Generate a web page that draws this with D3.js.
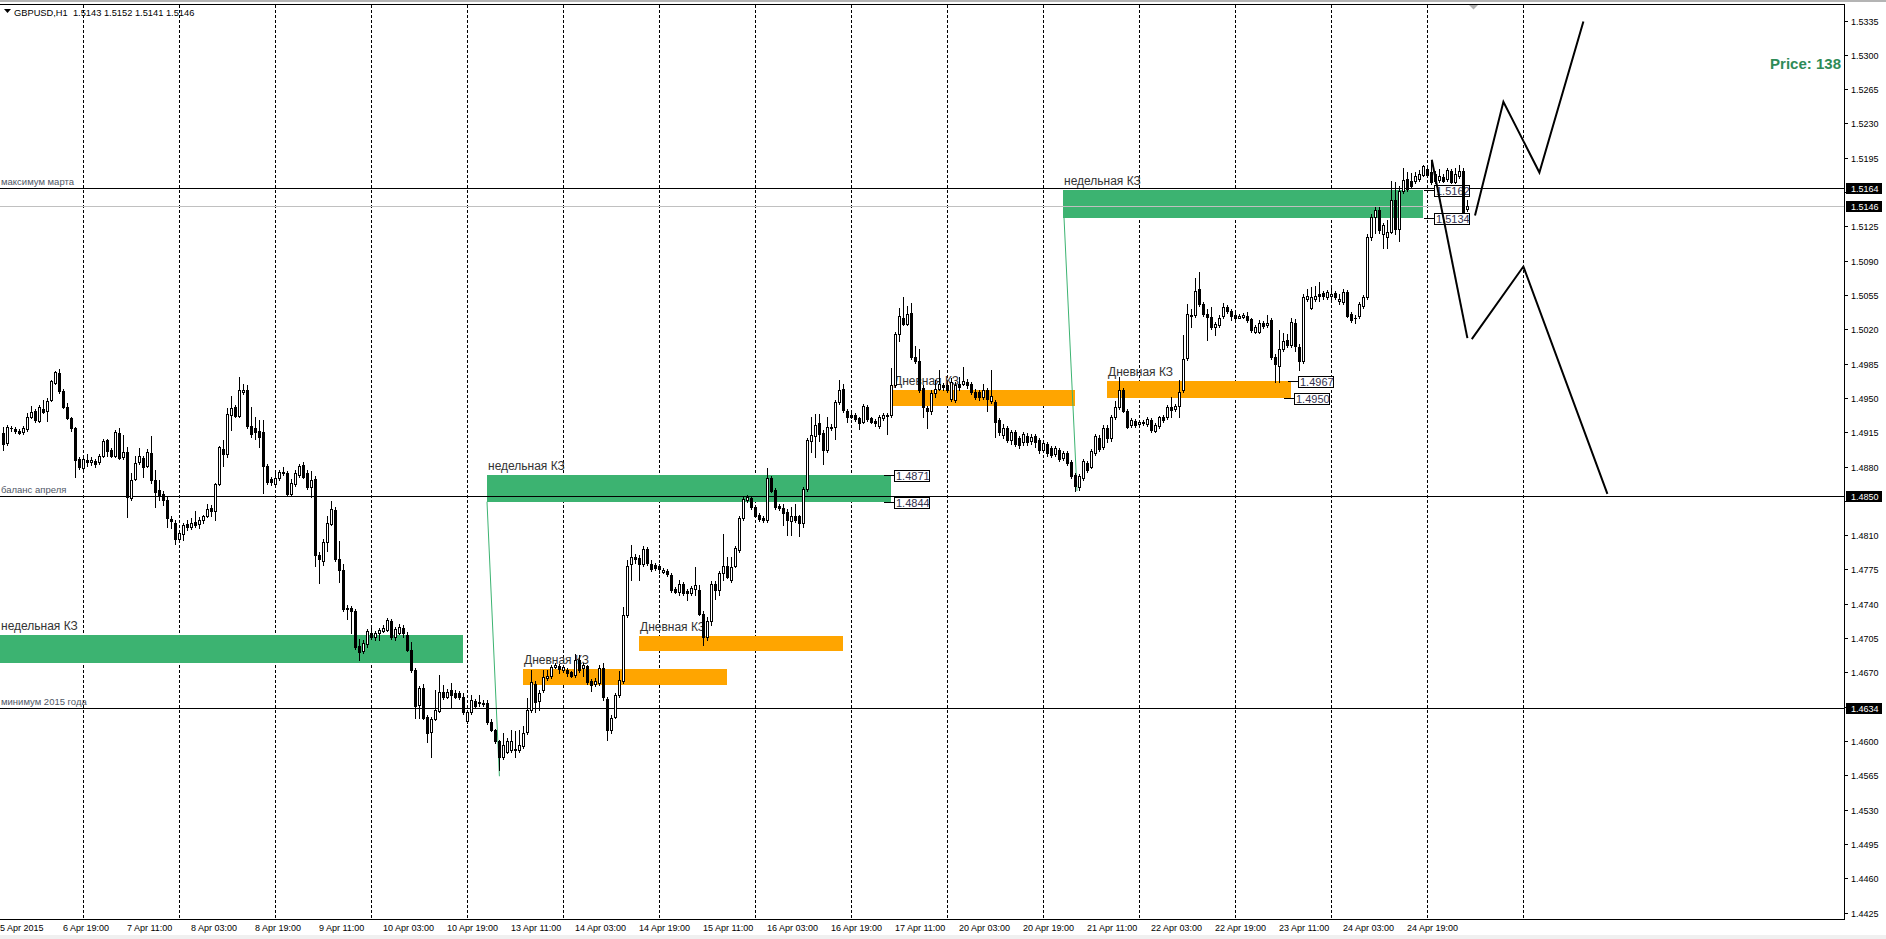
<!DOCTYPE html>
<html><head><meta charset="utf-8">
<script src="https://cdn.jsdelivr.net/npm/d3@7"></script>
<style>
body{margin:0;background:#fff;overflow:hidden}
svg{display:block}
text{font-family:"Liberation Sans",Arial,sans-serif;white-space:pre}
</style></head><body>
<svg id="c" width="1886" height="939"></svg>
<script>
// ---------- DATA (GBPUSD H1, bar index 0 = first visible bar) ----------
const opens=[1.4914,1.4904,1.4919,1.4918,1.4916,1.4915,1.4918,1.4930,1.4937,1.4926,
1.4939,1.4937,1.4948,1.4965,1.4975,1.4957,1.4941,1.4929,1.4919,1.4888,
1.4878,1.4887,1.4885,1.4886,1.4885,1.4891,1.4907,1.4897,1.4891,1.4914,
1.4890,1.4895,1.4848,1.4867,1.4885,1.4889,1.4881,1.4894,1.4866,1.4856,
1.4852,1.4846,1.4826,1.4822,1.4806,1.4811,1.4821,1.4818,1.4823,1.4821,
1.4825,1.4829,1.4838,1.4835,1.4862,1.4898,1.4893,1.4933,1.4941,1.4932,
1.4956,1.4958,1.4921,1.4919,1.4916,1.4915,1.4881,1.4867,1.4862,1.4868,
1.4874,1.4873,1.4852,1.4862,1.4871,1.4882,1.4873,1.4859,1.4867,1.4790,
1.4784,1.4803,1.4821,1.4836,1.4786,1.4774,1.4736,1.4736,1.4733,1.4697,
1.4692,1.4699,1.4710,1.4706,1.4710,1.4712,1.4713,1.4722,1.4706,1.4710,
1.4715,1.4708,1.4693,1.4672,1.4637,1.4654,1.4624,1.4609,1.4622,1.4631,
1.4650,1.4645,1.4652,1.4649,1.4649,1.4645,1.4620,1.4630,1.4641,1.4639,
1.4638,1.4639,1.4619,1.4611,1.4600,1.4584,1.4589,1.4591,1.4592,1.4591,
1.4595,1.4609,1.4632,1.4658,1.4641,1.4652,1.4664,1.4666,1.4675,1.4676,
1.4672,1.4672,1.4670,1.4667,1.4683,1.4674,1.4676,1.4661,1.4658,1.4659,
1.4674,1.4643,1.4611,1.4624,1.4647,1.4661,1.4728,1.4781,1.4788,1.4787,
1.4781,1.4796,1.4781,1.4780,1.4779,1.4772,1.4773,1.4769,1.4755,1.4752,
1.4760,1.4753,1.4751,1.4755,1.4754,1.4730,1.4706,1.4722,1.4760,1.4754,
1.4771,1.4779,1.4764,1.4779,1.4795,1.4827,1.4846,1.4848,1.4839,1.4831,
1.4827,1.4825,1.4868,1.4856,1.4840,1.4838,1.4834,1.4824,1.4830,1.4829,
1.4822,1.4857,1.4906,1.4911,1.4924,1.4914,1.4897,1.4919,1.4920,1.4946,
1.4959,1.4937,1.4933,1.4933,1.4929,1.4925,1.4941,1.4929,1.4926,1.4921,
1.4929,1.4932,1.4933,1.4963,1.5015,1.5032,1.5025,1.5037,1.4992,1.4988,
1.4960,1.4940,1.4937,1.4955,1.4959,1.4963,1.4963,1.4949,1.4948,1.4964,
1.4964,1.4966,1.4964,1.4956,1.4956,1.4951,1.4958,1.4947,1.4946,1.4927,
1.4912,1.4919,1.4907,1.4915,1.4909,1.4905,1.4911,1.4906,1.4911,1.4907,
1.4897,1.4903,1.4899,1.4893,1.4897,1.4889,1.4894,1.4885,1.4871,1.4859,
1.4868,1.4884,1.4880,1.4894,1.4909,1.4900,1.4919,1.4909,1.4930,1.4941,
1.4958,1.4937,1.4922,1.4926,1.4923,1.4925,1.4923,1.4927,1.4916,1.4921,
1.4931,1.4930,1.4941,1.4939,1.4942,1.4958,1.4991,1.5034,1.5035,1.5061,
1.5046,1.5036,1.5033,1.5022,1.5024,1.5034,1.5043,1.5039,1.5035,1.5032,
1.5033,1.5034,1.5030,1.5017,1.5017,1.5026,1.5024,1.5029,1.4992,1.4983,
1.5000,1.5009,1.5004,1.5026,1.5002,1.4988,1.5051,1.5042,1.5051,1.5056,
1.5057,1.5053,1.5054,1.5057,1.5049,1.5048,1.5058,1.5036,1.5032,1.5034,
1.5044,1.5053,1.5114,1.5135,1.5142,1.5117,1.5114,1.5119,1.5152,1.5122,
1.5161,1.5173,1.5171,1.5171,1.5173,1.5177,1.5184,1.5180,1.5178,1.5172,
1.5175,1.5173,1.5181,1.5170,1.5176,1.5181,1.5143];
const highs=[1.4920,1.4922,1.4921,1.4920,1.4918,1.4921,1.4935,1.4942,1.4939,1.4943,
1.4948,1.4950,1.4968,1.4977,1.4979,1.4959,1.4945,1.4930,1.4920,1.4890,
1.4890,1.4893,1.4890,1.4888,1.4893,1.4908,1.4908,1.4899,1.4917,1.4919,
1.4912,1.4900,1.4873,1.4891,1.4899,1.4891,1.4898,1.4911,1.4876,1.4866,
1.4855,1.4850,1.4830,1.4825,1.4815,1.4822,1.4825,1.4827,1.4835,1.4828,
1.4831,1.4842,1.4841,1.4863,1.4901,1.4907,1.4940,1.4952,1.4943,1.4971,
1.4964,1.4963,1.4941,1.4930,1.4927,1.4927,1.4883,1.4869,1.4876,1.4876,
1.4880,1.4875,1.4867,1.4876,1.4883,1.4885,1.4876,1.4875,1.4870,1.4793,
1.4806,1.4830,1.4845,1.4839,1.4804,1.4781,1.4739,1.4738,1.4735,1.4704,
1.4703,1.4714,1.4715,1.4712,1.4715,1.4718,1.4725,1.4724,1.4716,1.4719,
1.4718,1.4711,1.4701,1.4674,1.4656,1.4658,1.4626,1.4624,1.4652,1.4667,
1.4657,1.4653,1.4659,1.4652,1.4651,1.4649,1.4631,1.4647,1.4643,1.4647,
1.4642,1.4642,1.4622,1.4612,1.4601,1.4608,1.4603,1.4611,1.4610,1.4611,
1.4615,1.4644,1.4672,1.4661,1.4652,1.4672,1.4672,1.4678,1.4680,1.4679,
1.4678,1.4674,1.4671,1.4689,1.4688,1.4680,1.4678,1.4663,1.4664,1.4678,
1.4680,1.4645,1.4626,1.4649,1.4671,1.4737,1.4785,1.4800,1.4791,1.4790,
1.4799,1.4798,1.4785,1.4782,1.4781,1.4776,1.4775,1.4771,1.4757,1.4764,
1.4762,1.4755,1.4758,1.4777,1.4759,1.4733,1.4726,1.4763,1.4763,1.4773,
1.4811,1.4788,1.4788,1.4799,1.4829,1.4850,1.4851,1.4850,1.4841,1.4833,
1.4829,1.4878,1.4870,1.4858,1.4842,1.4842,1.4837,1.4839,1.4842,1.4831,
1.4859,1.4909,1.4931,1.4934,1.4934,1.4917,1.4930,1.4923,1.4948,1.4968,
1.4964,1.4939,1.4935,1.4935,1.4931,1.4944,1.4943,1.4931,1.4928,1.4933,
1.4935,1.4935,1.4980,1.5017,1.5042,1.5053,1.5044,1.5047,1.5003,1.5000,
1.4963,1.4942,1.4958,1.4968,1.4978,1.4965,1.4965,1.4970,1.4966,1.4971,
1.4981,1.4969,1.4966,1.4959,1.4958,1.4964,1.4960,1.4978,1.4948,1.4929,
1.4923,1.4921,1.4917,1.4917,1.4911,1.4915,1.4914,1.4913,1.4913,1.4909,
1.4907,1.4905,1.4901,1.4901,1.4899,1.4896,1.4896,1.4887,1.4873,1.4872,
1.4888,1.4886,1.4898,1.4913,1.4912,1.4922,1.4922,1.4933,1.4947,1.4971,
1.4960,1.4939,1.4929,1.4928,1.4927,1.4927,1.4930,1.4929,1.4924,1.4932,
1.4933,1.4943,1.4951,1.4944,1.4968,1.5014,1.5046,1.5041,1.5072,1.5078,
1.5048,1.5041,1.5043,1.5027,1.5035,1.5047,1.5045,1.5041,1.5037,1.5036,
1.5037,1.5038,1.5032,1.5024,1.5029,1.5028,1.5035,1.5031,1.4995,1.5019,
1.5016,1.5015,1.5032,1.5030,1.5005,1.5056,1.5061,1.5063,1.5064,1.5068,
1.5059,1.5060,1.5062,1.5059,1.5056,1.5061,1.5060,1.5038,1.5035,1.5048,
1.5055,1.5117,1.5138,1.5145,1.5145,1.5128,1.5131,1.5171,1.5170,1.5166,
1.5185,1.5180,1.5179,1.5180,1.5182,1.5188,1.5187,1.5192,1.5181,1.5183,
1.5178,1.5185,1.5183,1.5185,1.5188,1.5185,1.5152];
const lows=[1.4897,1.4902,1.4916,1.4914,1.4913,1.4913,1.4916,1.4929,1.4925,1.4925,
1.4935,1.4926,1.4947,1.4964,1.4955,1.4940,1.4928,1.4916,1.4869,1.4877,
1.4876,1.4881,1.4882,1.4880,1.4883,1.4890,1.4891,1.4890,1.4890,1.4888,
1.4888,1.4828,1.4846,1.4866,1.4883,1.4869,1.4880,1.4863,1.4839,1.4846,
1.4841,1.4818,1.4817,1.4801,1.4803,1.4805,1.4815,1.4816,1.4818,1.4817,
1.4822,1.4828,1.4830,1.4825,1.4861,1.4881,1.4890,1.4917,1.4930,1.4930,
1.4954,1.4919,1.4910,1.4908,1.4900,1.4853,1.4862,1.4861,1.4860,1.4866,
1.4871,1.4851,1.4850,1.4860,1.4869,1.4868,1.4857,1.4849,1.4778,1.4761,
1.4780,1.4794,1.4820,1.4784,1.4762,1.4733,1.4724,1.4710,1.4694,1.4683,
1.4690,1.4696,1.4704,1.4703,1.4703,1.4711,1.4712,1.4704,1.4703,1.4709,
1.4706,1.4692,1.4670,1.4623,1.4623,1.4622,1.4599,1.4584,1.4621,1.4630,
1.4643,1.4644,1.4635,1.4644,1.4643,1.4628,1.4618,1.4628,1.4634,1.4636,
1.4636,1.4617,1.4610,1.4598,1.4570,1.4582,1.4588,1.4589,1.4584,1.4589,
1.4593,1.4607,1.4630,1.4630,1.4632,1.4650,1.4662,1.4664,1.4674,1.4669,
1.4670,1.4666,1.4665,1.4665,1.4670,1.4666,1.4658,1.4651,1.4656,1.4657,
1.4642,1.4601,1.4608,1.4623,1.4645,1.4659,1.4726,1.4764,1.4782,1.4764,
1.4778,1.4780,1.4773,1.4774,1.4771,1.4771,1.4768,1.4752,1.4751,1.4749,
1.4749,1.4744,1.4749,1.4749,1.4728,1.4698,1.4703,1.4718,1.4745,1.4749,
1.4764,1.4766,1.4762,1.4777,1.4793,1.4825,1.4844,1.4837,1.4828,1.4824,
1.4823,1.4823,1.4854,1.4837,1.4836,1.4820,1.4810,1.4810,1.4823,1.4809,
1.4818,1.4855,1.4895,1.4890,1.4906,1.4883,1.4895,1.4917,1.4908,1.4944,
1.4936,1.4925,1.4929,1.4926,1.4918,1.4924,1.4926,1.4924,1.4921,1.4919,
1.4927,1.4913,1.4931,1.4961,1.5008,1.5024,1.5024,1.4990,1.4986,1.4956,
1.4930,1.4919,1.4934,1.4951,1.4958,1.4958,1.4956,1.4947,1.4946,1.4958,
1.4963,1.4960,1.4954,1.4949,1.4948,1.4949,1.4937,1.4945,1.4910,1.4912,
1.4909,1.4905,1.4903,1.4901,1.4899,1.4902,1.4902,1.4903,1.4900,1.4894,
1.4895,1.4891,1.4890,1.4891,1.4886,1.4887,1.4882,1.4868,1.4855,1.4856,
1.4866,1.4874,1.4878,1.4892,1.4896,1.4898,1.4905,1.4906,1.4928,1.4939,
1.4936,1.4919,1.4920,1.4920,1.4920,1.4922,1.4921,1.4915,1.4915,1.4919,
1.4925,1.4928,1.4930,1.4937,1.4930,1.4956,1.4989,1.5022,1.5033,1.5044,
1.5034,1.5009,1.5020,1.5014,1.5022,1.5032,1.5037,1.5029,1.5030,1.5031,
1.5031,1.5027,1.5017,1.5016,1.5016,1.5021,1.5022,1.4990,1.4966,1.4966,
1.4998,1.5002,1.5002,1.4998,1.4978,1.4986,1.5049,1.5041,1.5049,1.5049,
1.5051,1.5051,1.5051,1.5051,1.5046,1.5046,1.5033,1.5027,1.5026,1.5032,
1.5042,1.5051,1.5111,1.5118,1.5118,1.5103,1.5103,1.5118,1.5117,1.5110,
1.5159,1.5161,1.5164,1.5169,1.5171,1.5176,1.5176,1.5168,1.5169,1.5170,
1.5170,1.5171,1.5169,1.5169,1.5174,1.5139,1.5141];
const closes=[1.4903,1.4920,1.4919,1.4916,1.4914,1.4919,1.4930,1.4936,1.4927,1.4941,
1.4936,1.4947,1.4967,1.4976,1.4957,1.4941,1.4929,1.4919,1.4887,1.4879,
1.4888,1.4885,1.4887,1.4883,1.4891,1.4906,1.4896,1.4891,1.4915,1.4889,
1.4895,1.4849,1.4866,1.4884,1.4891,1.4880,1.4895,1.4866,1.4854,1.4851,
1.4846,1.4827,1.4824,1.4806,1.4812,1.4820,1.4818,1.4822,1.4820,1.4825,
1.4829,1.4837,1.4835,1.4862,1.4900,1.4893,1.4934,1.4940,1.4932,1.4958,
1.4958,1.4921,1.4913,1.4915,1.4910,1.4881,1.4864,1.4864,1.4868,1.4874,
1.4873,1.4852,1.4863,1.4873,1.4881,1.4869,1.4859,1.4866,1.4790,1.4786,
1.4803,1.4822,1.4837,1.4786,1.4774,1.4735,1.4735,1.4733,1.4696,1.4691,
1.4700,1.4712,1.4706,1.4710,1.4713,1.4715,1.4723,1.4706,1.4714,1.4716,
1.4710,1.4693,1.4672,1.4636,1.4654,1.4623,1.4608,1.4622,1.4632,1.4650,
1.4645,1.4650,1.4647,1.4645,1.4645,1.4630,1.4630,1.4642,1.4636,1.4640,
1.4639,1.4619,1.4611,1.4600,1.4584,1.4596,1.4600,1.4600,1.4591,1.4596,
1.4608,1.4632,1.4660,1.4640,1.4649,1.4665,1.4666,1.4675,1.4677,1.4673,
1.4675,1.4669,1.4666,1.4683,1.4672,1.4677,1.4660,1.4657,1.4661,1.4674,
1.4645,1.4611,1.4623,1.4647,1.4662,1.4728,1.4779,1.4788,1.4786,1.4781,
1.4796,1.4782,1.4775,1.4776,1.4775,1.4774,1.4770,1.4754,1.4752,1.4760,
1.4751,1.4751,1.4756,1.4759,1.4730,1.4706,1.4722,1.4760,1.4754,1.4771,
1.4779,1.4767,1.4777,1.4797,1.4827,1.4847,1.4849,1.4839,1.4830,1.4826,
1.4825,1.4868,1.4855,1.4839,1.4838,1.4833,1.4825,1.4829,1.4825,1.4822,
1.4857,1.4907,1.4912,1.4922,1.4913,1.4897,1.4920,1.4920,1.4946,1.4958,
1.4938,1.4930,1.4930,1.4928,1.4924,1.4942,1.4928,1.4925,1.4924,1.4931,
1.4933,1.4933,1.4963,1.5015,1.5034,1.5025,1.5036,1.4992,1.4988,1.4958,
1.4941,1.4937,1.4955,1.4959,1.4964,1.4961,1.4958,1.4966,1.4963,1.4961,
1.4967,1.4963,1.4956,1.4951,1.4951,1.4958,1.4949,1.4952,1.4925,1.4915,
1.4919,1.4907,1.4915,1.4903,1.4902,1.4913,1.4905,1.4910,1.4905,1.4897,
1.4904,1.4894,1.4892,1.4899,1.4888,1.4894,1.4884,1.4870,1.4860,1.4870,
1.4886,1.4876,1.4896,1.4911,1.4898,1.4919,1.4909,1.4930,1.4941,1.4958,
1.4937,1.4920,1.4927,1.4922,1.4925,1.4924,1.4928,1.4917,1.4922,1.4930,
1.4927,1.4941,1.4938,1.4942,1.4956,1.4990,1.5036,1.5035,1.5059,1.5046,
1.5036,1.5033,1.5022,1.5025,1.5032,1.5043,1.5039,1.5034,1.5032,1.5034,
1.5035,1.5029,1.5019,1.5022,1.5026,1.5023,1.5026,1.4992,1.4985,1.5000,
1.5008,1.5004,1.5027,1.5003,1.4988,1.5053,1.5054,1.5053,1.5054,1.5054,
1.5054,1.5058,1.5056,1.5053,1.5051,1.5058,1.5034,1.5029,1.5031,1.5046,
1.5053,1.5114,1.5135,1.5142,1.5121,1.5126,1.5119,1.5152,1.5122,1.5161,
1.5172,1.5163,1.5166,1.5176,1.5178,1.5187,1.5177,1.5170,1.5171,1.5176,
1.5171,1.5182,1.5170,1.5178,1.5181,1.5140,1.5146];

const priceTicks=[1.5335,1.5300,1.5265,1.5230,1.5195,1.5160,1.5125,1.5090,1.5055,1.5020,
1.4985,1.4950,1.4915,1.4880,1.4845,1.4810,1.4775,1.4740,1.4705,1.4670,1.4635,1.4600,
1.4565,1.4530,1.4495,1.4460,1.4425];
const firstDateLabel="5 Apr 2015";
const timeLabels=["6 Apr 19:00","7 Apr 11:00","8 Apr 03:00","8 Apr 19:00","9 Apr 11:00",
"10 Apr 03:00","10 Apr 19:00","13 Apr 11:00","14 Apr 03:00","14 Apr 19:00","15 Apr 11:00",
"16 Apr 03:00","16 Apr 19:00","17 Apr 11:00","20 Apr 03:00","20 Apr 19:00","21 Apr 11:00",
"22 Apr 03:00","22 Apr 19:00","23 Apr 11:00","24 Apr 03:00","24 Apr 19:00"];
const timeLabelFirstBar=15, timeLabelEvery=16;
const daySeparatorBars=[20,44,68,92,116,140,164,188,212,236,260,284,308,332,356,380];

const levels=[{price:1.5164,label:"максимум марта"},{price:1.4850,label:"баланс апреля"},{price:1.4634,label:"минимум 2015 года"}];
const currentPrice=1.5146;
const zones=[
 {kind:"weekly",from:-6,to:115,top:1.4708,bottom:1.4680,label:"недельная КЗ"},
 {kind:"weekly",from:121,to:222,top:1.4871,bottom:1.4844,label:"недельная КЗ"},
 {kind:"weekly",from:265,to:355,top:1.5162,bottom:1.5134,label:"недельная КЗ"},
 {kind:"daily",from:130,to:181,top:1.4673,bottom:1.4657,label:"Дневная КЗ"},
 {kind:"daily",from:159,to:210,top:1.4707,bottom:1.4692,label:"Дневная КЗ"},
 {kind:"daily",from:222.4,to:268,top:1.4958,bottom:1.4942,label:"Дневная КЗ"},
 {kind:"daily",from:276,to:322,top:1.4967,bottom:1.4950,label:"Дневная КЗ"}];
const zoneTrendLines=[[[121,1.4844],[124.1,1.4564]],[[265.25,1.5134],[268.5,1.4855]]];
const priceLabels=[{bar:220.3,price:1.4871},{bar:220.3,price:1.4844},{bar:321.3,price:1.4967},
 {bar:320.25,price:1.4950},{bar:355.25,price:1.5162},{bar:355.25,price:1.5134}];
const scenarioUp=[[368,1.5136],[375.1,1.5252],[384.1,1.5180],[395.1,1.5334]];
const scenarioDown1=[[357.2,1.5193],[366.1,1.5011]];
const scenarioDown2=[[367.2,1.5010],[380.1,1.5084],[401.1,1.4852]];
const header="GBPUSD,H1  1.5143 1.5152 1.5141 1.5146";
const infoText="Price: 138";

// ---------- DRAW ----------
const W=1886,H=939,plotR=1844,plotT=4,plotB=919;
const svg=d3.select("#c");
const x=d3.scaleLinear().domain([0,1]).range([3,7]);
const y=d3.scaleLinear().domain([1.4425,1.5335]).range([912.5,20.5]);
const px=v=>Math.round(x(v)), py=v=>Math.round(y(v));
const zoneColor={weekly:"#3CB371",daily:"#FFA500"};

svg.append("rect").attr("width",W).attr("height",H).attr("fill","#fff");
svg.append("rect").attr("x",0).attr("y",0).attr("width",W).attr("height",2).attr("fill","#b4b4b4");
svg.append("rect").attr("x",0).attr("y",935).attr("width",W).attr("height",4).attr("fill","#f0f0f0");

svg.append("defs").append("clipPath").attr("id","plot").append("rect")
  .attr("x",0).attr("y",plotT+1).attr("width",plotR).attr("height",plotB-plotT-1);
const g=svg.append("g").attr("clip-path","url(#plot)").attr("shape-rendering","crispEdges");

// day separators
g.selectAll("line.sep").data(daySeparatorBars).join("line").attr("class","sep")
 .attr("x1",d=>px(d)+0.5).attr("x2",d=>px(d)+0.5).attr("y1",plotT+1).attr("y2",plotB)
 .attr("stroke","#000").attr("stroke-width",1).attr("stroke-dasharray","3,2");

// zones
g.selectAll("rect.zone").data(zones).join("rect").attr("class","zone")
 .attr("x",d=>px(d.from)).attr("width",d=>px(d.to)-px(d.from))
 .attr("y",d=>py(d.top)).attr("height",d=>py(d.bottom)-py(d.top))
 .attr("fill",d=>zoneColor[d.kind]);
g.selectAll("text.zl").data(zones).join("text").attr("class","zl")
 .attr("x",d=>Math.max(px(d.from),0)+1).attr("y",d=>py(d.top)-5)
 .attr("font-size",12).attr("fill","#333").text(d=>d.label);

// trend lines from zones
const line=d3.line().x(d=>x(d[0])).y(d=>y(d[1]));
g.selectAll("path.zt").data(zoneTrendLines).join("path").attr("class","zt")
 .attr("d",line).attr("fill","none").attr("stroke","#3CB371").attr("stroke-width",1)
 .attr("shape-rendering","auto");

// level lines
g.selectAll("rect.lvl").data(levels).join("rect").attr("class","lvl")
 .attr("x",0).attr("width",plotR).attr("y",d=>py(d.price)).attr("height",1).attr("fill","#000");
g.selectAll("text.lvl").data(levels).join("text").attr("class","lvl")
 .attr("x",1).attr("y",d=>py(d.price)-3).attr("font-size",9.5).attr("fill","#505866").text(d=>d.label);
g.append("rect").attr("x",0).attr("width",plotR).attr("y",py(currentPrice)).attr("height",1).attr("fill","#c0c0c0");

// price label objects
const pl=g.selectAll("g.pl").data(priceLabels).join("g").attr("class","pl");
pl.append("rect").attr("x",d=>px(d.bar)).attr("width",10).attr("y",d=>py(d.price)).attr("height",1).attr("fill","#000");
pl.append("rect").attr("x",d=>px(d.bar)+10.5).attr("y",d=>py(d.price)-4.5).attr("width",35).attr("height",11)
 .attr("fill","#fff").attr("stroke","#000");
pl.append("text").attr("x",d=>px(d.bar)+12).attr("y",d=>py(d.price)+5).attr("font-size",11)
 .attr("fill","#333350").text(d=>d.price.toFixed(4));

// candles
const bars=opens.map((o,i)=>({i,o,h:highs[i],l:lows[i],c:closes[i]}));
const cg=g.append("g");
bars.forEach(d=>{
  const cx=px(d.i), hi=py(d.h), lo=py(d.l);
  const top=py(Math.max(d.o,d.c)), bot=py(Math.min(d.o,d.c));
  cg.append("rect").attr("x",cx).attr("y",hi).attr("width",1).attr("height",lo-hi+1).attr("fill","#000");
  cg.append("rect").attr("x",cx-1).attr("y",top).attr("width",3).attr("height",bot-top+1).attr("fill","#000");
  if(d.c>d.o && bot-top>1) cg.append("rect").attr("x",cx).attr("y",top+1).attr("width",1).attr("height",bot-top-1).attr("fill","#fff");
});

// scenario lines
g.selectAll("path.sc").data([scenarioUp,scenarioDown1,scenarioDown2]).join("path").attr("class","sc")
 .attr("d",line).attr("fill","none").attr("stroke","#000").attr("stroke-width",2)
 .attr("stroke-linejoin","miter").attr("shape-rendering","auto");

// frame
svg.append("rect").attr("x",0).attr("y",plotT).attr("width",plotR+1).attr("height",1).attr("fill","#000");
svg.append("rect").attr("x",plotR).attr("y",plotT).attr("width",1).attr("height",plotB-plotT+1).attr("fill","#000");
svg.append("rect").attr("x",0).attr("y",plotB).attr("width",plotR+1).attr("height",1).attr("fill","#000");

// chart shift marker
svg.append("path").attr("d",`M${px(367.5)-4},${plotT+1}h9l-4.5,4.5z`).attr("fill","#b0b0b0");

// price axis
const boxLevels=[levels[0].price,currentPrice,levels[1].price,levels[2].price];
const visibleTicks=priceTicks.filter(t=>boxLevels.every(b=>Math.abs(py(t)-py(b))>10));
const ax=svg.append("g");
ax.selectAll("rect.tk").data(priceTicks).join("rect").attr("class","tk")
 .attr("x",plotR+1).attr("y",d=>py(d)).attr("width",3).attr("height",1).attr("fill","#000");
ax.selectAll("text.tk").data(visibleTicks).join("text").attr("class","tk")
 .attr("x",plotR+7).attr("y",d=>py(d)+3.5).attr("font-size",9).attr("fill","#000").text(d=>d.toFixed(4));
ax.selectAll("rect.bx").data(boxLevels).join("rect").attr("class","bx")
 .attr("x",plotR+2).attr("y",d=>py(d)-5).attr("width",36).attr("height",11).attr("fill","#000");
ax.selectAll("text.bx").data(boxLevels).join("text").attr("class","bx")
 .attr("x",plotR+7).attr("y",d=>py(d)+3.5).attr("font-size",9).attr("fill","#fff").text(d=>d.toFixed(4));

// time axis
const tx=svg.append("g");
tx.append("text").attr("x",0).attr("y",931).attr("font-size",9).attr("fill","#000").text(firstDateLabel);
tx.selectAll("text.tl").data(timeLabels).join("text").attr("class","tl")
 .attr("x",(d,k)=>px(timeLabelFirstBar+k*timeLabelEvery)).attr("y",931).attr("font-size",9).attr("fill","#000").text(d=>d);

// header & info
svg.append("path").attr("d","M4,9h7l-3.5,4z").attr("fill","#000");
svg.append("text").attr("x",14).attr("y",16).attr("font-size",9.3).attr("fill","#000").text(header);
svg.append("text").attr("x",plotR-3).attr("y",68.5).attr("text-anchor","end").attr("font-size",15)
 .attr("font-weight","bold").attr("fill","#2E8B57").text(infoText);
</script></body></html>
